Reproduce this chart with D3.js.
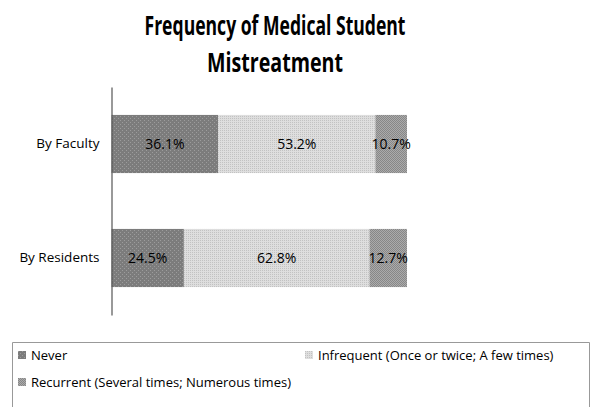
<!DOCTYPE html>
<html>
<head>
<meta charset="utf-8">
<title>Frequency of Medical Student Mistreatment</title>
<script src="https://cdn.jsdelivr.net/npm/d3@7"></script>
<style>
  body { margin: 0; background: #fff; }
  text { font-family: "Open Sans", sans-serif; fill: #000; }
</style>
</head>
<body>
<svg width="600" height="407"></svg>
<script>

var categories = ["By Faculty", "By Residents"],
    seriesNames = ["Never", "Infrequent (Once or twice; A few times)", "Recurrent (Several times; Numerous times)"],
    never = [36.1, 24.5],
    infrequent = [53.2, 62.8],
    recurrent = [10.7, 12.7];

var svg = d3.select("svg");

// fill patterns, roughly like the old office texture fills
var defs = svg.append("defs");
function pat(id, bg, fg, size, dots) {
  var p = defs.append("pattern").attr("id", id)
      .attr("width", size).attr("height", size)
      .attr("patternUnits", "userSpaceOnUse");
  p.append("rect").attr("width", size).attr("height", size).attr("fill", bg);
  dots.forEach(function(d) {
    p.append("rect").attr("x", d[0]).attr("y", d[1]).attr("width", 1).attr("height", 1).attr("fill", fg);
  });
}
pat("p0", "#7c7c7c", "#9c9c9c", 4, [[0, 0], [2, 2]]);
pat("p1", "#dedede", "#c2c2c2", 2, [[0, 0]]);
pat("p2", "#ababab", "#878787", 2, [[0, 0], [1, 1]]);

var x = d3.scaleLinear().domain([0, 100]).range([111.5, 407]);
var y = d3.scaleBand().domain(categories).range([87, 315]).paddingInner(0.49).paddingOuter(0.245);

var rows = categories.map(function(c, i) {
  return {cat: c, vals: [never[i], infrequent[i], recurrent[i]]};
});

var g = svg.append("g");
rows.forEach(function(r) {
  var start = 0;
  r.vals.forEach(function(v, k) {
    g.append("rect")
        .attr("x", x(start))
        .attr("y", y(r.cat))
        .attr("width", x(start + v) - x(start))
        .attr("height", y.bandwidth())
        .attr("fill", "url(#p" + k + ")");
    g.append("text")
        .attr("x", (x(start) + x(start + v)) / 2)
        .attr("y", y(r.cat) + y.bandwidth() / 2)
        .attr("dy", "0.35em")
        .attr("text-anchor", "middle")
        .style("font-size", "14px")
        .text(v.toFixed(1) + "%");
    start += v;
  });
});

// category axis
var axis = svg.append("g")
    .attr("transform", "translate(111.5,0)")
    .call(d3.axisLeft(y).tickSize(0).tickPadding(12));
axis.select(".domain").attr("stroke", "#555").attr("stroke-width", 1.2);
axis.selectAll("text").style("font-size", "13.5px").attr("font-family", null);

// title
var title = svg.append("text")
    .attr("text-anchor", "middle")
    .style("font-weight", "bold")
    .style("font-size", "26px");
title.append("tspan").attr("x", 275).attr("y", 35)
    .attr("textLength", 261).attr("lengthAdjust", "spacingAndGlyphs")
    .text("Frequency of Medical Student");
title.append("tspan").attr("x", 275).attr("y", 72)
    .attr("textLength", 136).attr("lengthAdjust", "spacingAndGlyphs")
    .text("Mistreatment");

// legend
svg.append("path")
    .attr("d", "M12.5,407 V342.5 H589.5 V407")
    .attr("fill", "none").attr("stroke", "#999");

var legendPos = [[18, 355], [305, 355], [18, 382]];
seriesNames.forEach(function(s, k) {
  var lg = svg.append("g").attr("transform", "translate(" + legendPos[k][0] + "," + legendPos[k][1] + ")");
  lg.append("rect").attr("x", 0).attr("y", -4).attr("width", 8).attr("height", 8)
      .attr("fill", "url(#p" + k + ")");
  lg.append("text").attr("x", 13).attr("dy", "0.35em").style("font-size", "13px").text(s);
});

</script>
</body>
</html>
